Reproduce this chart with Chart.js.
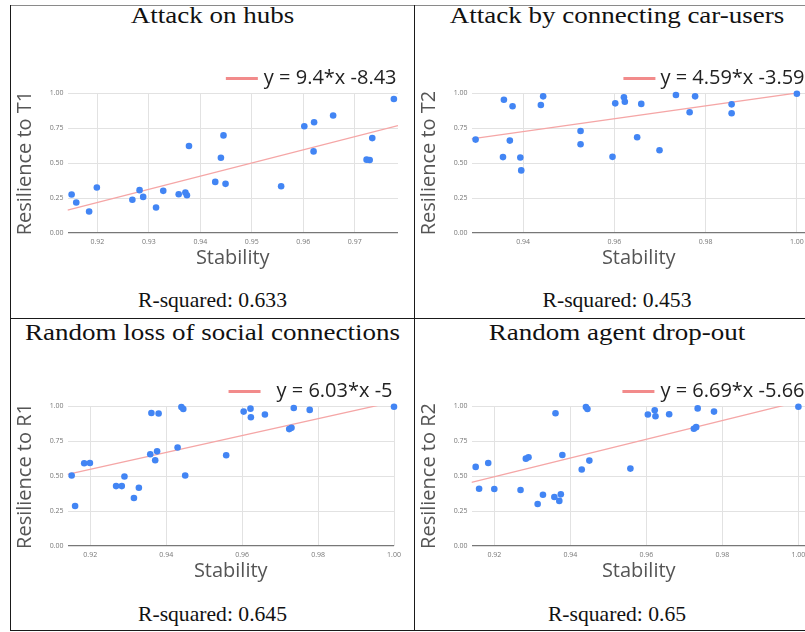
<!DOCTYPE html>
<html lang="en">
<head>
    <meta charset="UTF-8">
    <title>Stability vs resilience</title>
    <script src="https://cdn.jsdelivr.net/npm/chart.js"></script>
    <style>
        html, body { margin: 0; padding: 0; background: #fff; }
        body { width: 805px; height: 632px; position: relative; overflow: hidden; }
        .rule { position: absolute; background: #1a1a1a; }
        .caption {
            position: absolute; text-align: center; white-space: nowrap;
            font-family: "Liberation Serif", serif; color: #111;
        }
        .title { font-size: 22.5px; line-height: 28px; transform: scaleX(1.2); }
        .rsq { font-size: 21px; line-height: 26px; transform: scaleX(1.03); }
        canvas { position: absolute; }
    </style>
</head>
<body>
    <!-- table rules -->
    <div class="rule" style="left:10px; top:5px; width:795px; height:1px; background:#8a8a8a"></div>
    <div class="rule" style="left:10px; top:5px; width:1px; height:626px"></div>
    <div class="rule" style="left:414px; top:5px; width:1px; height:626px"></div>
    <div class="rule" style="left:10px; top:318px; width:795px; height:1px"></div>
    <div class="rule" style="left:10px; top:630px; width:795px; height:1px"></div>

    <div class="caption title" style="left:11px; width:403px; top:2px">Attack on hubs</div>
    <div class="caption title" style="left:415px; width:404px; top:2px">Attack by connecting car-users</div>
    <div class="caption rsq" id="rsq1" style="left:11px; width:403px; top:287px"></div>
    <div class="caption rsq" id="rsq2" style="left:415px; width:404px; top:287px"></div>

    <div class="caption title" style="left:11px; width:403px; top:319px">Random loss of social connections</div>
    <div class="caption title" style="left:415px; width:404px; top:319px">Random agent drop-out</div>
    <div class="caption rsq" id="rsq3" style="left:11px; width:403px; top:601px"></div>
    <div class="caption rsq" id="rsq4" style="left:415px; width:404px; top:601px"></div>

    <canvas id="hubsChart" width="403" height="220" style="left:11px; top:60px"></canvas>
    <canvas id="carChart" width="404" height="220" style="left:415px; top:60px"></canvas>
    <canvas id="socialChart" width="403" height="220" style="left:11px; top:373px"></canvas>
    <canvas id="dropChart" width="404" height="220" style="left:415px; top:373px"></canvas>

    <script>
        // Attack on hubs
        const hubsX = [0.9150, 0.9159, 0.9184, 0.9199, 0.9268, 0.9282, 0.9289, 0.9314, 0.9328, 0.9358, 0.9371, 0.9374, 0.9378,
                       0.9429, 0.9440, 0.9445, 0.9449, 0.9557, 0.9602, 0.9620, 0.9621, 0.9658, 0.9723, 0.9729, 0.9734, 0.9776];
        const hubsY = [0.275, 0.218, 0.154, 0.325, 0.237, 0.306, 0.258, 0.182, 0.301, 0.277, 0.289, 0.270, 0.621,
                       0.365, 0.538, 0.697, 0.351, 0.334, 0.763, 0.583, 0.791, 0.839, 0.524, 0.521, 0.678, 0.957];

        // Attack by connecting car-users
        const carX = [0.9296, 0.9356, 0.9358, 0.9371, 0.9377, 0.9394, 0.9396, 0.9439, 0.9444, 0.9526, 0.9526, 0.9596,
                      0.9602, 0.9621, 0.9623, 0.9650, 0.9659, 0.9699, 0.9735, 0.9765, 0.9777, 0.9857, 0.9857, 1.0000];
        const carY = [0.667, 0.542, 0.952, 0.660, 0.905, 0.539, 0.447, 0.914, 0.976, 0.729, 0.634, 0.544,
                      0.926, 0.969, 0.938, 0.684, 0.922, 0.591, 0.986, 0.862, 0.976, 0.919, 0.855, 0.995];

        // Random loss of social connections
        const socialX = [0.9151, 0.9160, 0.9184, 0.9199, 0.9268, 0.9283, 0.9290, 0.9315, 0.9328, 0.9358, 0.9361, 0.9371, 0.9376, 0.9380,
                         0.9430, 0.9440, 0.9445, 0.9450, 0.9558, 0.9604, 0.9622, 0.9623, 0.9660, 0.9724, 0.9730, 0.9736, 0.9778, 1.0000];
        const socialY = [0.504, 0.286, 0.591, 0.593, 0.428, 0.428, 0.496, 0.343, 0.416, 0.655, 0.950, 0.612, 0.676, 0.946,
                         0.704, 0.993, 0.979, 0.504, 0.648, 0.960, 0.981, 0.920, 0.939, 0.835, 0.844, 0.986, 0.972, 0.995];

        // Random agent drop-out
        const dropX = [0.9151, 0.9160, 0.9184, 0.9200, 0.9269, 0.9283, 0.9290, 0.9314, 0.9328, 0.9358, 0.9361, 0.9371, 0.9375, 0.9379,
                       0.9430, 0.9441, 0.9445, 0.9450, 0.9558, 0.9604, 0.9622, 0.9624, 0.9660, 0.9725, 0.9731, 0.9735, 0.9778, 1.0000];
        const dropY = [0.565, 0.409, 0.593, 0.407, 0.400, 0.624, 0.634, 0.300, 0.366, 0.350, 0.948, 0.322, 0.369, 0.650,
                       0.546, 0.993, 0.979, 0.610, 0.553, 0.939, 0.969, 0.927, 0.941, 0.837, 0.849, 0.983, 0.960, 0.995];

        // trend lines (slope, intercept) and r-squared as printed
        const slopes = [9.4, 4.59, 6.03, 6.69];
        const intercepts = [-8.43, -3.59, -5, -5.66];
        const legendLabels = ['y = 9.4*x -8.43', 'y = 4.59*x -3.59', 'y = 6.03*x -5', 'y = 6.69*x -5.66'];
        const rSquared = ['0.633', '0.453', '0.645', '0.65'];

        // axis ranges and ticks
        const xMins = [0.9142, 0.9287, 0.9140, 0.9140];
        const xMaxs = [0.9784, 1.002, 1.000, 1.002];
        const xTicksHubs = [0.92, 0.93, 0.94, 0.95, 0.96, 0.97];
        const xTicksCar = [0.94, 0.96, 0.98, 1.00];
        const xTicksWide = [0.92, 0.94, 0.96, 0.98, 1.00];
        const yTicks = [0, 0.25, 0.5, 0.75, 1];
        const yTitles = ['Resilience to T1', 'Resilience to T2', 'Resilience to R1', 'Resilience to R2'];

        const axisFont = { family: 'Open Sans', size: 20 };
        const tickFont = { family: 'Open Sans', size: 7 };

        // legend: short thick line + equation, right-aligned above the plot
        const trendLegend = {
            id: 'trendLegend',
            afterDraw(chart, args, opts) {
                const ctx = chart.ctx;
                const area = chart.chartArea;
                const y = area.top - 14.5;
                const right = area.right - 1.5;
                ctx.save();
                ctx.font = '20px "Open Sans"';
                ctx.textAlign = 'right';
                ctx.textBaseline = 'middle';
                ctx.fillStyle = '#222';
                ctx.fillText(opts.text, right, y);
                const end = right - ctx.measureText(opts.text).width - opts.gap;
                ctx.strokeStyle = '#f28b8b';
                ctx.lineWidth = 3;
                ctx.beginPath();
                ctx.moveTo(end - 32, y);
                ctx.lineTo(end, y);
                ctx.stroke();
                ctx.restore();
            }
        };

        function makeChart(canvasId, i, xs, ys, xTicks, rightPad, legendGap) {
            const points = xs.map((x, k) => ({ x: x, y: ys[k] }));
            const trend = [xMins[i], xMaxs[i]].map(x => ({ x: x, y: slopes[i] * x + intercepts[i] }));
            return new Chart(document.getElementById(canvasId), {
                type: 'scatter',
                data: {
                    datasets: [
                        { data: points, backgroundColor: '#4285f4', borderWidth: 0, pointRadius: 3.3, clip: false },
                        { data: trend, showLine: true, borderColor: '#f5a6a6', borderWidth: 1.3, pointRadius: 0, clip: 0 }
                    ]
                },
                options: {
                    responsive: false,
                    animation: false,
                    events: [],
                    layout: { padding: { left: 0, top: 33, right: rightPad, bottom: 9.5 } },
                    plugins: {
                        legend: { display: false },
                        tooltip: { enabled: false },
                        trendLegend: { text: legendLabels[i], gap: legendGap }
                    },
                    scales: {
                        x: {
                            type: 'linear', min: xMins[i], max: xMaxs[i],
                            afterBuildTicks: s => { s.ticks = xTicks.map(v => ({ value: v })); },
                            afterFit: s => { s.height = 37.5; },
                            ticks: { callback: v => v.toFixed(2), font: tickFont, color: '#777', padding: 4.5, maxRotation: 0, autoSkip: false },
                            grid: { color: '#e2e2e2', drawTicks: false },
                            border: { display: false },
                            title: { display: true, text: 'Stability', font: axisFont, color: '#555', padding: 0 }
                        },
                        y: {
                            min: 0, max: 1,
                            afterBuildTicks: s => { s.ticks = yTicks.map(v => ({ value: v })); },
                            afterFit: s => { s.width = 56.5; },
                            ticks: { callback: v => v.toFixed(2), font: tickFont, color: '#777', padding: 4 },
                            grid: {
                                color: c => (c.tick && c.tick.value === 0) ? '#777' : '#e2e2e2',
                                lineWidth: c => (c.tick && c.tick.value === 0) ? 1.3 : 1,
                                drawTicks: false
                            },
                            border: { display: false },
                            title: { display: true, text: yTitles[i], font: axisFont, color: '#555', padding: { top: 2.6, bottom: 0 } }
                        }
                    }
                },
                plugins: [trendLegend]
            });
        }

        makeChart('hubsChart', 0, hubsX, hubsY, xTicksHubs, 16, 6);
        makeChart('carChart', 1, carX, carY, xTicksCar, 13, 5);
        makeChart('socialChart', 2, socialX, socialY, xTicksWide, 20, 16);
        makeChart('dropChart', 3, dropX, dropY, xTicksWide, 13, 6);

        rSquared.forEach((r, k) => {
            document.getElementById('rsq' + (k + 1)).textContent = 'R-squared: ' + r;
        });
    </script>
</body>
</html>
